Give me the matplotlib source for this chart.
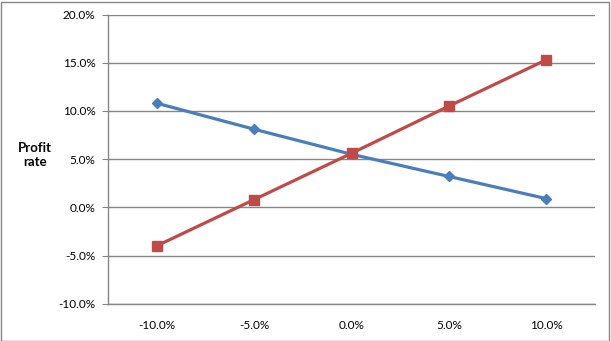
import matplotlib.pyplot as plt
import matplotlib.ticker as ticker

categories = ["-10.0%", "-5.0%", "0.0%", "5.0%", "10.0%"]
blue_vals = [10.8, 8.1, 5.5, 3.2, 0.9]
red_vals = [-4.0, 0.8, 5.6, 10.5, 15.3]

plt.rcParams['font.family'] = ['Lato', 'DejaVu Sans']

W, H = 611, 341
fig = plt.figure(figsize=(W / 100, H / 100), dpi=100)
ax = fig.add_axes([108 / W, 1 - 303.7 / H, (595 - 108) / W, (303.7 - 14.5) / H])

x = list(range(len(categories)))
ax.plot(x, blue_vals, '-D', color='#4A7EBB', lw=2.3, markersize=5.5, zorder=3)
ax.plot(x, red_vals, '-s', color='#BE4B48', lw=2.3, markersize=7, zorder=4)

ax.set_xlim(-0.5, len(categories) - 0.5)
ax.set_ylim(-10, 20)
ax.yaxis.set_major_locator(ticker.MultipleLocator(5))
ax.yaxis.set_major_formatter(ticker.FuncFormatter(lambda v, p: f"{v:.1f}%"))
ax.set_xticks(x)
ax.set_xticklabels(categories)

ax.grid(axis='y', color='#868686', lw=1.0)
ax.set_axisbelow(True)
for s in ['top', 'right']:
    ax.spines[s].set_visible(False)
for s in ['left', 'bottom']:
    ax.spines[s].set_color('#868686')
    ax.spines[s].set_linewidth(1.0)

ax.tick_params(axis='y', length=4, color='#868686', labelsize=8.5, pad=5)
ax.tick_params(axis='x', length=0, labelsize=8.5, pad=12)

fig.text(35 / W, 1 - 155 / H, "Profit\nrate", ha='center', va='center',
         fontsize=9.5, fontweight='bold', linespacing=1.3)

fig.patches.append(plt.Rectangle((0.5 / W, 0.5 / H), 1 - 2.5 / W, 1 - 2.5 / H,
                                 transform=fig.transFigure, fill=False,
                                 edgecolor='#868686', lw=1.0))

fig.savefig("out.png", dpi=100)
